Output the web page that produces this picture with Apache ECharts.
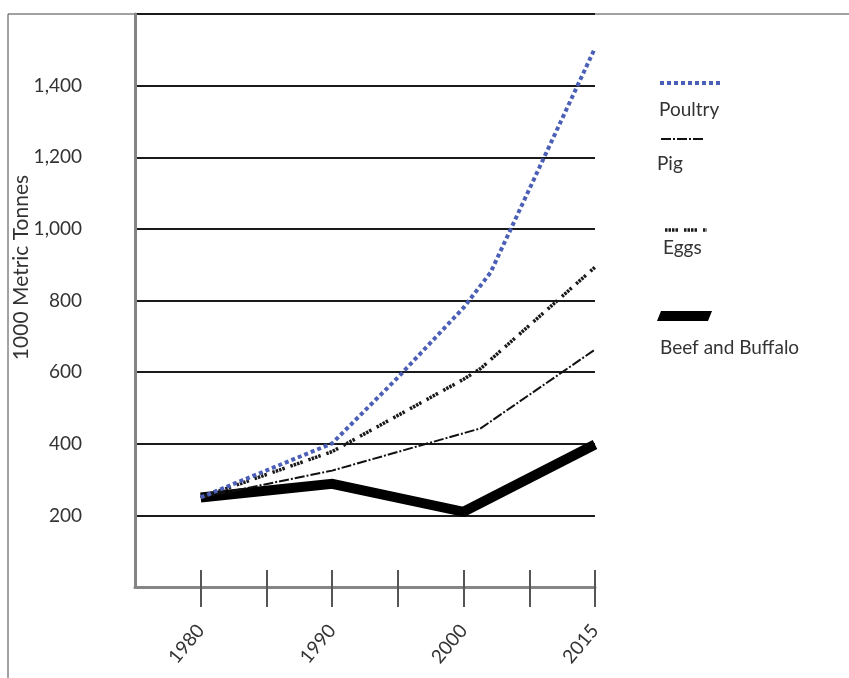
<!DOCTYPE html>
<html>
<head>
<meta charset="utf-8">
<script src="https://cdn.jsdelivr.net/npm/echarts@6/dist/echarts.min.js"></script>
<style>
html,body{margin:0;padding:0;background:#fff;}
#chart{width:849px;height:678px;}
</style>
</head>
<body>
<div id="chart"></div>
<script>
// ---- data ----
// x positions are axis slots: 1=1980, 3=1990, 5=2000, 7=2015 (even slots are unlabeled ticks)
const xTickLabels = ['1980', '', '1990', '', '2000', '', '2015'];
const seriesNames = ['Poultry', 'Pig', 'Eggs', 'Beef and Buffalo'];
const poultryX = [1, 3, 4, 5, 5.41, 7];
const poultryY = [250, 401, 585, 780, 878, 1505];
const pigX = [1, 3, 5.26, 7];
const pigY = [250, 325, 443, 663];
const eggsX = [1, 3, 5, 5.26, 7];
const eggsY = [250, 378, 580, 610, 893];
const beefX = [1, 3, 5, 7];
const beefY = [250, 288, 210, 398];
const yTicks = [0, 200, 400, 600, 800, 1000, 1200, 1400, 1600];

const pair = (xs, ys) => xs.map((x, i) => [x, ys[i]]);

const FONT = 'Lato';
const TXT = '#333';
const poultryStyle = { color: '#4b5fb6', width: 4, type: [4, 3], cap: 'butt' };
const pigStyle = { color: '#111', width: 2, type: [10, 2, 2, 2], cap: 'butt' };
const eggsStyle = { color: '#1a1a1a', width: 3.5, type: [2.5, 1, 2.5, 1, 2.5, 1, 2.5, 6], cap: 'butt' };
const beefStyle = { color: '#000', width: 10, cap: 'butt', join: 'miter' };

const chart = echarts.init(document.getElementById('chart'), null, { renderer: 'canvas' });

const tickSlots = xTickLabels.map((_, i) => i + 1);
const labelSlots = tickSlots.filter(s => xTickLabels[s - 1] !== '');

function lineSeries(name, xs, ys, ls, z) {
  return {
    name: name, type: 'line', xAxisIndex: 0, yAxisIndex: 0,
    data: pair(xs, ys), symbol: 'none', z: z, animation: false,
    lineStyle: ls
  };
}

function legendEntry(ls, x1, x2, y, label, tx, ty) {
  return [
    { type: 'line', shape: { x1: x1, y1: y, x2: x2, y2: y },
      style: { stroke: ls.color, lineWidth: ls.width, lineDash: ls.type, lineCap: 'butt' } },
    { type: 'text', left: tx, top: ty,
      style: { text: label, fill: TXT, font: '19px ' + FONT } }
  ];
}

const option = {
  backgroundColor: '#fff',
  animation: false,
  grid: { left: 135, top: 14, right: 254, bottom: 91, containLabel: false, outerBoundsMode: 'none' },
  xAxis: [
    {
      type: 'value', min: 0, max: 7, interval: 1, position: 'bottom',
      axisLine: { show: true, onZero: false, lineStyle: { color: '#858585', width: 3 } },
      axisTick: { show: true, customValues: tickSlots, length: 20, lineStyle: { color: '#555', width: 2 } },
      axisLabel: {
        show: true, customValues: labelSlots, rotate: 50, margin: 40,
        color: TXT, fontFamily: FONT, fontSize: 19,
        formatter: v => xTickLabels[Math.round(v) - 1] || ''
      },
      splitLine: { show: false }
    },
    {
      type: 'value', min: 0, max: 7, interval: 1, position: 'bottom',
      axisLine: { show: false },
      axisTick: { show: true, inside: true, customValues: tickSlots, length: 17, lineStyle: { color: '#555', width: 2 } },
      axisLabel: { show: false },
      splitLine: { show: false }
    }
  ],
  yAxis: {
    type: 'value', min: yTicks[0], max: yTicks[yTicks.length - 1], interval: yTicks[1] - yTicks[0],
    axisLine: { show: true, lineStyle: { color: '#858585', width: 3 } },
    axisTick: { show: false },
    splitLine: { show: true, lineStyle: { color: '#1a1a1a', width: 2 } },
    axisLabel: {
      showMinLabel: false, showMaxLabel: false, margin: 53,
      color: TXT, fontFamily: FONT, fontSize: 19,
      formatter: v => v.toLocaleString('en-US')
    },
    name: '1000 Metric Tonnes', nameLocation: 'middle', nameGap: 103, nameMoveOverlap: false,
    nameTextStyle: { color: TXT, fontFamily: FONT, fontSize: 21, padding: [0, 0, 0, 66] }
  },
  series: [
    lineSeries(seriesNames[3], beefX, beefY, beefStyle, 2),
    lineSeries(seriesNames[1], pigX, pigY, pigStyle, 3),
    lineSeries(seriesNames[2], eggsX, eggsY, eggsStyle, 4),
    lineSeries(seriesNames[0], poultryX, poultryY, poultryStyle, 5)
  ],
  graphic: [
    { type: 'rect', z: -1, shape: { x: 8, y: 14, width: 900, height: 720 },
      style: { fill: 'none', stroke: '#444', lineWidth: 1 } },
    ...legendEntry(poultryStyle, 660, 723, 83, seriesNames[0], 659, 100),
    ...legendEntry(pigStyle, 661, 703, 139, seriesNames[1], 657, 154),
    ...legendEntry(eggsStyle, 665, 707, 230, seriesNames[2], 663, 238),
    { type: 'polygon', shape: { points: [[661, 311], [712, 311], [708, 321], [657, 321]] },
      style: { fill: '#000' } },
    { type: 'text', left: 660, top: 338,
      style: { text: seriesNames[3], fill: TXT, font: '19px ' + FONT } }
  ]
};
chart.setOption(option);
</script>
</body>
</html>
